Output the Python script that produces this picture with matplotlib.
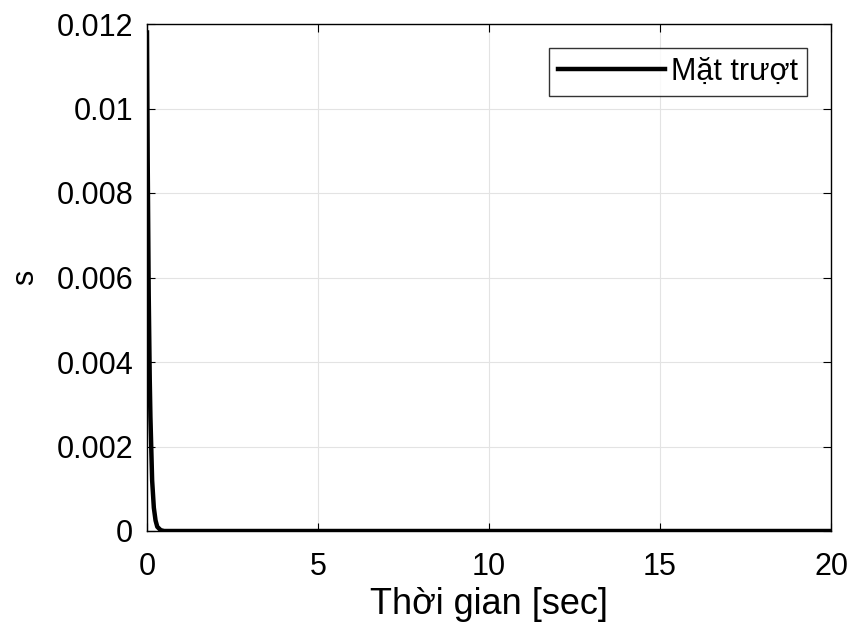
import matplotlib.pyplot as plt

# Sliding surface s(t) samples
t = [0, 0.02, 0.05, 0.08, 0.1, 0.15, 0.2, 0.25, 0.3, 0.4, 0.5, 1, 2, 5, 10, 15, 20]
s = [0.0118, 0.0088, 0.0056, 0.0036, 0.0027, 0.0012, 0.00055, 0.00025, 0.0001,
     0.00002, 0.0, 0.0, 0.0, 0.0, 0.0, 0.0, 0.0]

x_ticks = [0, 5, 10, 15, 20]
y_ticks = [0, 0.002, 0.004, 0.006, 0.008, 0.01, 0.012]
y_labels = ['0', '0.002', '0.004', '0.006', '0.008', '0.01', '0.012']

plt.rcParams['font.family'] = ['Liberation Sans', 'DejaVu Sans']

fig = plt.figure(figsize=(8.5, 6.33), dpi=100)
ax = fig.add_axes([147 / 850, 1 - 531 / 633, 684 / 850, 507 / 633])

ax.plot(t, s, color='black', linewidth=3.2, label='Mặt trượt')

ax.set_xlim(0, 20)
ax.set_ylim(0, 0.012)
ax.set_xticks(x_ticks)
ax.set_yticks(y_ticks)
ax.set_yticklabels(y_labels)
ax.tick_params(direction='in', length=6, width=0.8, labelsize=22,
               top=True, right=True)
ax.tick_params(axis='x', pad=15)
ax.tick_params(axis='y', pad=10)
ax.grid(True, color='#e3e3e3', linewidth=0.8)
for sp in ax.spines.values():
    sp.set_linewidth(1.0)
    sp.set_color('black')

ax.set_xlabel('Thời gian [sec]', fontsize=26, labelpad=4)
ax.set_ylabel('s', fontsize=22, labelpad=12)

leg = ax.legend(loc='upper right', fontsize=22, frameon=True, fancybox=False,
                edgecolor='black', handlelength=3.5, handletextpad=0.2,
                borderpad=0.3, borderaxespad=0,
                bbox_to_anchor=((807 - 147) / 684, (531 - 48) / 507))
leg.get_frame().set_linewidth(1.0)

fig.savefig('out.png', dpi=100, facecolor='white')
